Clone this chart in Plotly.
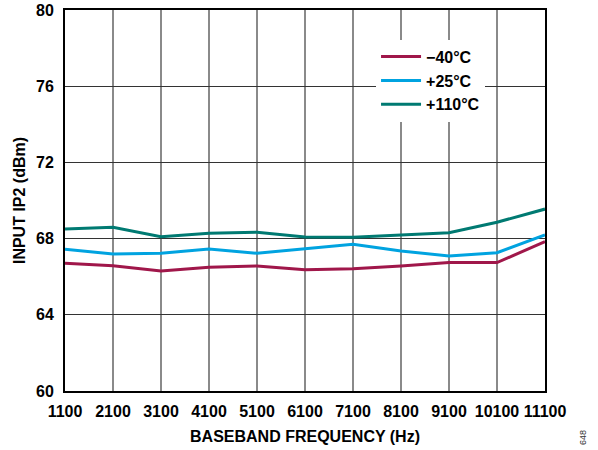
import plotly.graph_objects as go

freq = [1100, 2100, 3100, 4100, 5100, 6100, 7100, 8100, 9100, 10100, 11100]
m40 = [66.70, 66.58, 66.30, 66.49, 66.56, 66.37, 66.42, 66.56, 66.74, 66.74, 67.84]
p25 = [67.44, 67.19, 67.23, 67.45, 67.23, 67.47, 67.70, 67.35, 67.09, 67.26, 68.19]
p110 = [68.50, 68.59, 68.10, 68.28, 68.33, 68.09, 68.07, 68.19, 68.31, 68.86, 69.55]
series_names = ["\u221240\u00b0C", "+25\u00b0C", "+110\u00b0C"]
colors = ["#A0174A", "#00A3E0", "#007A72"]
xticks = freq
yticks = [60, 64, 68, 72, 76, 80]

font = "Liberation Sans, Arial, sans-serif"
fig = go.Figure()
for name, vals, c in zip(series_names, [m40, p25, p110], colors):
    fig.add_trace(go.Scatter(x=freq, y=vals, name=name, mode="lines",
                             line=dict(color=c, width=3)))

fig.update_layout(
    width=598, height=450,
    margin=dict(l=65, r=53, t=10, b=59, autoexpand=False),
    paper_bgcolor="white", plot_bgcolor="white",
    font=dict(family=font, size=13, color="black"),
    showlegend=True,
    legend=dict(x=0.648, y=0.922, xanchor="left", yanchor="top",
                bgcolor="white", borderwidth=0,
                font=dict(family=font, size=16, color="black", weight="bold"),
                itemwidth=40, tracegroupgap=0),
    xaxis=dict(range=[1100, 11100], tickvals=xticks, ticktext=[str(v) for v in xticks],
               showgrid=True, gridcolor="#8a8a8a", gridwidth=1.5,
               showline=True, linecolor="black", linewidth=2, mirror=True,
               ticks="", zeroline=False, automargin=False, ticklabelstandoff=5,
               tickangle=0,
               tickfont=dict(family=font, size=16, color="black", weight="bold"),
               title=dict(text="BASEBAND FREQUENCY (Hz)", standoff=12,
                          font=dict(family=font, size=16, color="black", weight="bold"))),
    yaxis=dict(range=[60, 80], tickvals=yticks,
               showgrid=True, gridcolor="#333333", gridwidth=1.2,
               showline=True, linecolor="black", linewidth=2, mirror=True,
               ticks="", zeroline=False, automargin=False, ticklabelstandoff=6,
               tickfont=dict(family=font, size=16, color="black", weight="bold"),
               title=dict(text="INPUT IP2 (dBm)", standoff=6,
                          font=dict(family=font, size=16, color="black", weight="bold"))),
)
fig.add_annotation(text="648", xref="paper", yref="paper", x=1.094, y=-0.148,
                   showarrow=False, textangle=-90,
                   font=dict(family=font, size=9, color="#333333"))
fig.write_html("out.html", config={"displayModeBar": False},
               post_script="document.body.style.margin='0px';")
